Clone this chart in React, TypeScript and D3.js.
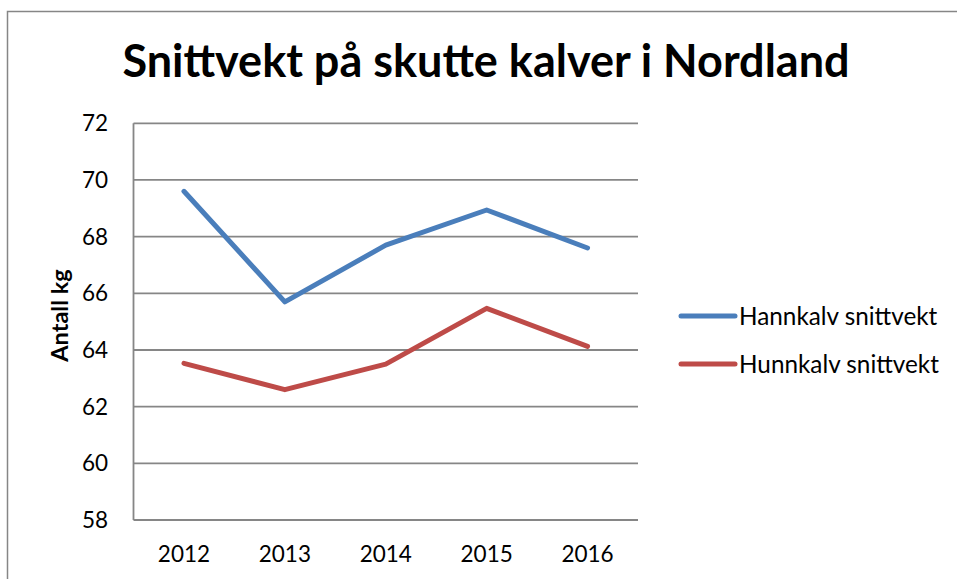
import React from "react";
import * as d3 from "d3";

const years = ["2012", "2013", "2014", "2015", "2016"];
const hannkalv = [69.6, 65.7, 67.7, 68.94, 67.6];
const hunnkalv = [63.53, 62.6, 63.5, 65.47, 64.13];
const yTicks = [58, 60, 62, 64, 66, 68, 70, 72];
const seriesNames = ["Hannkalv snittvekt", "Hunnkalv snittvekt"];
const title = "Snittvekt på skutte kalver i Nordland";
const yTitle = "Antall kg";

const W = 957;
const H = 579;
const FONT = "Lato, 'Open Sans', sans-serif";
const colors = ["#4A7EBB", "#BE4B48"];

export default function App() {
  const left = 133.5;
  const right = 638;
  const top = 123.3;
  const bottom = 520;
  const x = d3.scaleBand().domain(years).range([left, right]);
  const y = d3.scaleLinear().domain([58, 72]).range([bottom, top]);
  const line = d3
    .line<number>()
    .x((_, i) => (x(years[i]) as number) + x.bandwidth() / 2)
    .y((d) => y(d));
  const series = [hannkalv, hunnkalv];
  const legendY = [316, 364];

  return (
    <svg
      width={W}
      height={H}
      style={{ position: "absolute", left: 0, top: 0, background: "#fff" }}
      fontFamily={FONT}
    >
      <rect x={7.5} y={11.5} width={W + 20} height={H + 20} fill="#fff" stroke="#868686" strokeWidth={1.5} />
      <text x={486} y={77} textAnchor="middle" fontSize={45} fontWeight={700} fill="#000">
        {title}
      </text>
      {yTicks.map((t) => (
        <g key={t}>
          <line x1={left} x2={right} y1={y(t)} y2={y(t)} stroke="#868686" strokeWidth={1.8} />
          <text x={108} y={y(t)} dy="0.36em" textAnchor="end" fontSize={22.5} fill="#000">
            {t}
          </text>
        </g>
      ))}
      <line x1={left} x2={left} y1={top} y2={bottom} stroke="#868686" strokeWidth={1.8} />
      {years.map((yr) => (
        <text
          key={yr}
          x={(x(yr) as number) + x.bandwidth() / 2}
          y={562}
          textAnchor="middle"
          fontSize={22.5}
          fill="#000"
        >
          {yr}
        </text>
      ))}
      <text
        transform={`translate(68,315.5) rotate(-90)`}
        textAnchor="middle"
        fontSize={23.5}
        fontWeight={700}
        fill="#000"
      >
        {yTitle}
      </text>
      {series.map((s, i) => (
        <path
          key={i}
          d={line(s) as string}
          fill="none"
          stroke={colors[i]}
          strokeWidth={5}
          strokeLinecap="round"
          strokeLinejoin="round"
        />
      ))}
      {seriesNames.map((n, i) => (
        <g key={n}>
          <line
            x1={681}
            x2={735}
            y1={legendY[i]}
            y2={legendY[i]}
            stroke={colors[i]}
            strokeWidth={5}
            strokeLinecap="round"
          />
          <text x={739} y={legendY[i]} dy="0.36em" fontSize={24.3} fill="#000">
            {n}
          </text>
        </g>
      ))}
    </svg>
  );
}
